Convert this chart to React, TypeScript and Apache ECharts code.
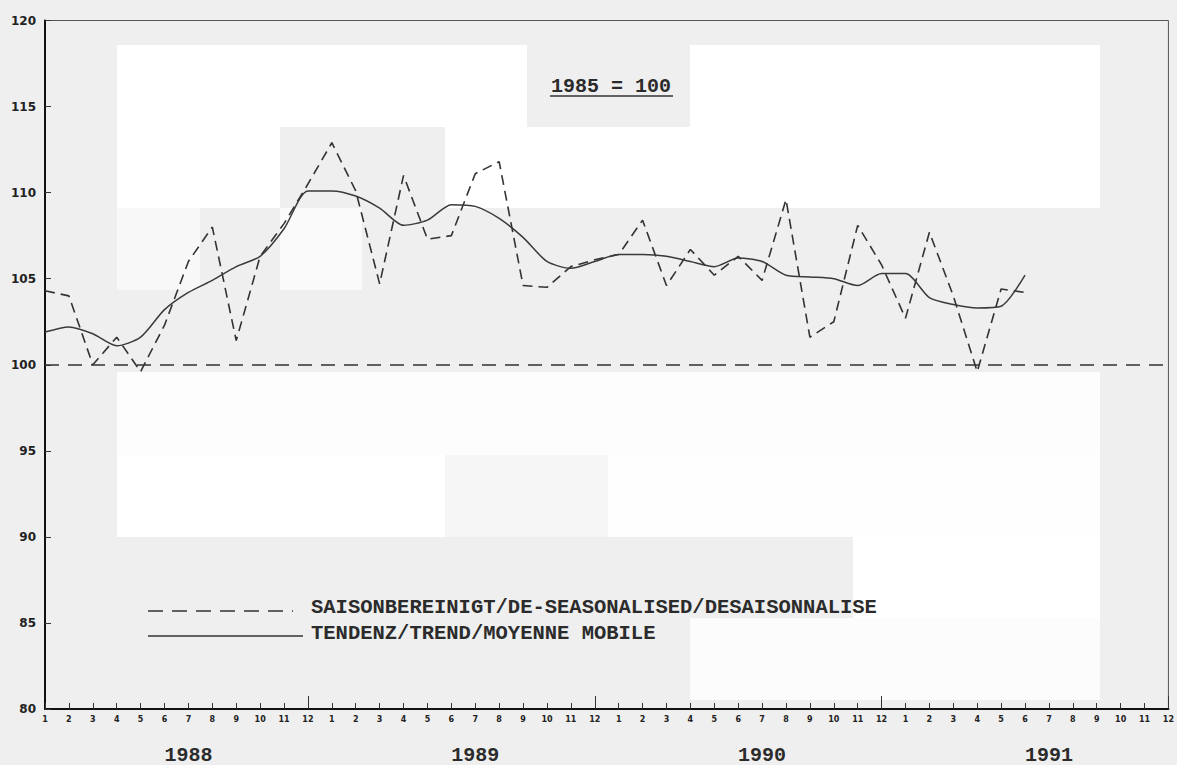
import React, { useEffect, useRef } from "react";
import * as echarts from "echarts";

// Month tick labels, Jan 1988 .. Dec 1991
const monthLabels = [
  "1", "2", "3", "4", "5", "6", "7", "8", "9", "10", "11", "12",
  "1", "2", "3", "4", "5", "6", "7", "8", "9", "10", "11", "12",
  "1", "2", "3", "4", "5", "6", "7", "8", "9", "10", "11", "12",
  "1", "2", "3", "4", "5", "6", "7", "8", "9", "10", "11", "12",
];
const yearLabels = ["1988", "1989", "1990", "1991"];

// Seasonally adjusted index (dashed)
const seasonallyAdjusted = [
  104.3, 104.0, 100.0, 101.6, 99.6, 102.3, 106.0, 108.0, 101.4, 106.3, 108.2, 110.5,
  112.9, 110.1, 104.7, 111.0, 107.3, 107.5, 111.1, 111.8, 104.6, 104.5, 105.7, 106.1,
  106.4, 108.4, 104.6, 106.7, 105.2, 106.3, 104.9, 109.6, 101.6, 102.5, 108.1, 105.8,
  102.7, 107.7, 104.0, 99.6, 104.4, 104.2, null, null, null, null, null, null,
];

// Trend / moving average (solid)
const trend = [
  101.9, 102.2, 101.8, 101.1, 101.6, 103.2, 104.2, 104.9, 105.7, 106.3, 107.9, 110.1,
  110.1, 109.8, 109.1, 108.1, 108.4, 109.3, 109.2, 108.5, 107.4, 106.0, 105.6, 106.0,
  106.4, 106.4, 106.3, 106.0, 105.7, 106.2, 106.0, 105.2, 105.1, 105.0, 104.6, 105.3,
  105.3, 103.9, 103.5, 103.3, 103.4, 105.2, null, null, null, null, null, null,
];

const baseValue = 100;
const yMin = 80;
const yMax = 120;
const yStep = 5;

const legendDashedLabel = "SAISONBEREINIGT/DE-SEASONALISED/DESAISONNALISE";
const legendTrendLabel = "TENDENZ/TREND/MOYENNE MOBILE";
const baseNote = "1985 = 100";

const INK = "#2b2b2b";
const MONO = '"Liberation Mono", "DejaVu Sans Mono", monospace';

export default function App() {
  const ref = useRef<HTMLDivElement>(null);

  useEffect(() => {
    if (!ref.current) return;
    const chart = echarts.init(ref.current, undefined, { renderer: "svg" });

    const patch = (x: number, y: number, w: number, h: number, fill: string) => ({
      type: "rect",
      z: -10,
      silent: true,
      shape: { x, y, width: w, height: h },
      style: { fill },
    });

    const option: any = {
      animation: false,
      backgroundColor: "#efefef",
      grid: {
        left: 45,
        right: 3,
        top: 20.5,
        bottom: 53.5,
        show: true,
        borderColor: "#555",
        borderWidth: 1,
        backgroundColor: "transparent",
      },
      xAxis: [
        {
          type: "category",
          data: monthLabels,
          boundaryGap: false,
          axisLine: { show: true, lineStyle: { color: "#111", width: 2 } },
          axisTick: { show: true, inside: true, length: 6, interval: 0, lineStyle: { color: "#333", width: 1 } },
          axisLabel: {
            interval: 0,
            fontSize: 8,
            fontWeight: "bold",
            color: "#222",
            fontFamily: '"DejaVu Sans", sans-serif',
            margin: 6,
          },
          splitLine: { show: false },
        },
        {
          type: "category",
          data: monthLabels,
          boundaryGap: false,
          position: "bottom",
          axisLine: { show: false },
          axisTick: {
            show: true,
            inside: true,
            length: 13,
            interval: (i: number) => i % 12 === 11,
            lineStyle: { color: "#333", width: 1 },
          },
          axisLabel: {
            interval: 0,
            margin: 36,
            fontSize: 20,
            fontWeight: "bold",
            fontFamily: MONO,
            color: INK,
            formatter: (_v: string, i: number) =>
              i % 12 === 6 ? yearLabels[Math.floor(i / 12)] : "",
          },
          splitLine: { show: false },
        },
      ],
      yAxis: {
        type: "value",
        min: yMin,
        max: yMax,
        interval: yStep,
        axisLine: { show: true, lineStyle: { color: "#111", width: 2 } },
        axisTick: { show: true, inside: true, length: 6, lineStyle: { color: "#333" } },
        axisLabel: {
          fontSize: 12,
          fontWeight: "bold",
          color: "#222",
          fontFamily: '"DejaVu Sans", sans-serif',
          margin: 9,
        },
        splitLine: { show: false },
      },
      series: [
        {
          name: legendDashedLabel,
          type: "line",
          data: seasonallyAdjusted,
          showSymbol: false,
          connectNulls: false,
          lineStyle: { color: "#333", width: 1.6, type: [10, 6] },
          z: 3,
          markLine: {
            silent: true,
            symbol: ["none", "none"],
            label: { show: false },
            lineStyle: { color: "#333", width: 1.5, type: [14, 9] },
            data: [{ yAxis: baseValue }],
          },
        },
        {
          name: legendTrendLabel,
          type: "line",
          data: trend,
          smooth: 0.25,
          showSymbol: false,
          connectNulls: false,
          lineStyle: { color: "#3a3a3a", width: 1.5, type: "solid" },
          z: 4,
        },
      ],
      graphic: [
        // scanned-paper background patches
        patch(117, 45, 410, 82, "#ffffff"),
        patch(690, 45, 410, 163, "#ffffff"),
        patch(117, 127, 163, 81, "#ffffff"),
        patch(445, 127, 245, 81, "#ffffff"),
        patch(117, 208, 83, 82, "#f8f8f8"),
        patch(280, 208, 82, 82, "#fafafa"),
        patch(117, 372, 983, 83, "#fdfdfd"),
        patch(117, 455, 328, 82, "#ffffff"),
        patch(445, 455, 163, 82, "#f6f6f6"),
        patch(608, 455, 492, 82, "#fefefe"),
        patch(853, 537, 247, 81, "#ffffff"),
        patch(690, 618, 410, 82, "#fcfcfc"),
        // legend
        {
          type: "line",
          shape: { x1: 148, y1: 611, x2: 293, y2: 611 },
          style: { stroke: "#333", lineWidth: 1.5, lineDash: [15, 9] },
        },
        {
          type: "line",
          shape: { x1: 148, y1: 636, x2: 303, y2: 636 },
          style: { stroke: "#333", lineWidth: 1.5 },
        },
        {
          type: "text",
          x: 311,
          y: 607,
          style: {
            text: legendDashedLabel,
            fontSize: 20.5,
            fontWeight: "bold",
            fontFamily: MONO,
            fill: INK,
            verticalAlign: "middle",
            align: "left",
          },
        },
        {
          type: "text",
          x: 311,
          y: 633,
          style: {
            text: legendTrendLabel,
            fontSize: 20.5,
            fontWeight: "bold",
            fontFamily: MONO,
            fill: INK,
            verticalAlign: "middle",
            align: "left",
          },
        },
        // base-year note
        {
          type: "text",
          x: 551,
          y: 86.5,
          style: {
            text: baseNote,
            fontSize: 20,
            fontWeight: "bold",
            fontFamily: MONO,
            fill: INK,
            verticalAlign: "middle",
            align: "left",
          },
        },
        {
          type: "line",
          shape: { x1: 550, y1: 96, x2: 673, y2: 96 },
          style: { stroke: "#333", lineWidth: 1.5 },
        },
      ],
    };

    chart.setOption(option);
    return () => chart.dispose();
  }, []);

  return (
    <div
      ref={ref}
      style={{ position: "fixed", left: 0, top: 0, width: 1177, height: 765 }}
    />
  );
}
